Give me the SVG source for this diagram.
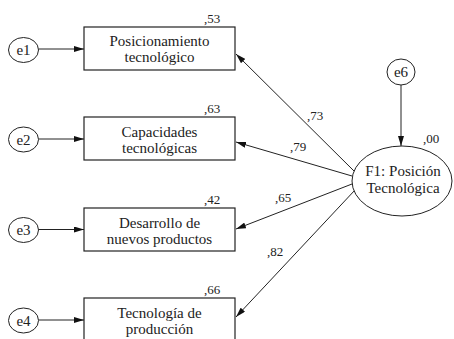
<svg xmlns="http://www.w3.org/2000/svg" width="454" height="339" viewBox="0 0 454 339">
<defs>
<style>
.box{fill:#fff;stroke:#222;stroke-width:1.2}
.err{fill:#fff;stroke:#222;stroke-width:1}
.c line{stroke:#222;stroke-width:1;marker-end:url(#ah)}
</style>
<marker id="ah" viewBox="0 0 10 6" refX="10" refY="3" markerWidth="10" markerHeight="6" markerUnits="userSpaceOnUse" orient="auto">
<path d="M0,0 L10,3 L0,6 z" fill="#111"/>
</marker>
</defs>
<rect width="454" height="339" fill="#fff"/>
<g id="connectors" class="c">
<line x1="38.5" y1="49" x2="84" y2="49"/>
<line x1="38.5" y1="139" x2="84" y2="139"/>
<line x1="38.5" y1="229.5" x2="84" y2="229.5"/>
<line x1="38.5" y1="320" x2="84" y2="320"/>
<line x1="401" y1="85" x2="401" y2="146"/>
<line x1="354" y1="171" x2="236" y2="54"/>
<line x1="352" y1="176" x2="236" y2="142"/>
<line x1="352" y1="184" x2="236" y2="229"/>
<line x1="355" y1="190" x2="236" y2="317"/>
</g>
<g id="labels">
<text font-family="Liberation Serif" font-size="13" fill="#222" x="307" y="120">,73</text>
<text font-family="Liberation Serif" font-size="13" fill="#222" x="290" y="151">,79</text>
<text font-family="Liberation Serif" font-size="13" fill="#222" x="275" y="202">,65</text>
<text font-family="Liberation Serif" font-size="13" fill="#222" x="267" y="256">,82</text>
</g>
<g id="e1"><ellipse class="err" cx="23.5" cy="50" rx="15" ry="12.5"/><text font-family="Liberation Serif" font-size="15" fill="#222" text-anchor="middle" x="23.5" y="55">e1</text></g>
<g id="e2"><ellipse class="err" cx="23.5" cy="139.5" rx="15" ry="12.5"/><text font-family="Liberation Serif" font-size="15" fill="#222" text-anchor="middle" x="23.5" y="144.5">e2</text></g>
<g id="e3"><ellipse class="err" cx="23.5" cy="230" rx="15" ry="12.5"/><text font-family="Liberation Serif" font-size="15" fill="#222" text-anchor="middle" x="23.5" y="235">e3</text></g>
<g id="e4"><ellipse class="err" cx="23.5" cy="320.5" rx="15" ry="12.5"/><text font-family="Liberation Serif" font-size="15" fill="#222" text-anchor="middle" x="23.5" y="325.5">e4</text></g>
<g id="e6"><ellipse class="err" cx="401" cy="72" rx="14" ry="13"/><text font-family="Liberation Serif" font-size="15" fill="#222" text-anchor="middle" x="401" y="77">e6</text></g>
<g id="v1"><rect class="box" x="84" y="27" width="151" height="43"/>
<text font-family="Liberation Serif" font-size="15" fill="#222" text-anchor="middle" x="159.5" y="45.5">Posicionamiento</text>
<text font-family="Liberation Serif" font-size="15" fill="#222" text-anchor="middle" x="159.5" y="61.5">tecnológico</text>
<text font-family="Liberation Serif" font-size="13" fill="#222" x="204" y="23">,53</text></g>
<g id="v2"><rect class="box" x="84" y="117" width="151" height="43"/>
<text font-family="Liberation Serif" font-size="15" fill="#222" text-anchor="middle" x="159.5" y="136.5">Capacidades</text>
<text font-family="Liberation Serif" font-size="15" fill="#222" text-anchor="middle" x="159.5" y="152.5">tecnológicas</text>
<text font-family="Liberation Serif" font-size="13" fill="#222" x="204" y="113">,63</text></g>
<g id="v3"><rect class="box" x="84" y="208" width="151" height="43"/>
<text font-family="Liberation Serif" font-size="15" fill="#222" text-anchor="middle" x="159.5" y="227.5">Desarrollo de</text>
<text font-family="Liberation Serif" font-size="15" fill="#222" text-anchor="middle" x="159.5" y="243.5">nuevos productos</text>
<text font-family="Liberation Serif" font-size="13" fill="#222" x="204" y="204">,42</text></g>
<g id="v4"><rect class="box" x="84" y="298" width="151" height="43"/>
<text font-family="Liberation Serif" font-size="15" fill="#222" text-anchor="middle" x="159.5" y="317.5">Tecnología de</text>
<text font-family="Liberation Serif" font-size="15" fill="#222" text-anchor="middle" x="159.5" y="333.5">producción</text>
<text font-family="Liberation Serif" font-size="13" fill="#222" x="204" y="294">,66</text></g>
<g id="f1"><ellipse class="err" cx="402" cy="181" rx="50" ry="35"/>
<text font-family="Liberation Serif" font-size="15" fill="#222" text-anchor="middle" x="403" y="175.5">F1: Posición</text>
<text font-family="Liberation Serif" font-size="15" fill="#222" text-anchor="middle" x="403" y="192.5">Tecnológica</text>
<text font-family="Liberation Serif" font-size="13" fill="#222" x="423" y="143">,00</text></g>
</svg>
